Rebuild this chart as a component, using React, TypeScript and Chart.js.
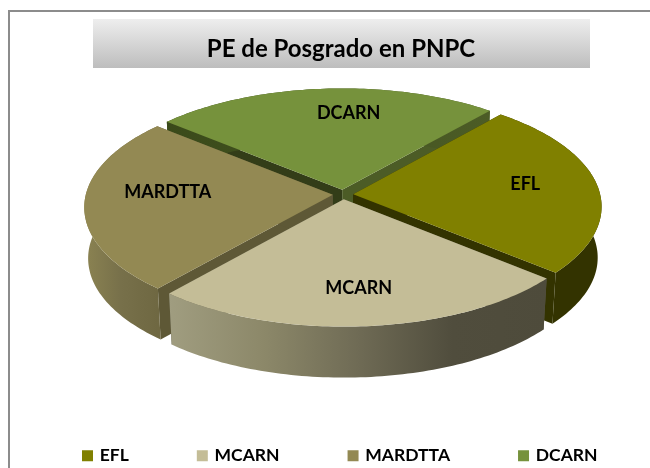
import React, { useEffect, useRef } from "react";
import { Chart, registerables } from "chart.js";

Chart.register(...registerables);

const categories = ["EFL", "MCARN", "MARDTTA", "DCARN"];
const values = [25, 25, 25, 25];
const faceColors = ["#808000", "#C4BD97", "#938953", "#76923C"];

// Styling of the extruded 3D walls, by slice
const wallStops: string[][] = [
  ["#333300", "#333300"],
  ["#a09d80", "#8c8869", "#6f6b55", "#504d3d", "#4e4b3b"],
  ["#8b8352", "#77704a", "#6f6842"],
  ["#3a4a1a", "#4c5c26"],
];
const startFaceColors = ["#333300", "#5a5846", "#5e5836", "#333d18"];
const endFaceColors = ["#333300", "#5a5846", "#5e5836", "#4c5c26"];
const labelRadius = [0.71, 0.725, 0.67, 0.735];
const labelTurnDeg = [-2.8, 0.25, 6.5, 6.8];

// Projection of the pie's unit disc on the page
const view = { cx: 343, cy: 194.5, rx: 247, ry: 113, k: 0.105, depth: 51, shrink: 0.985 };
const paintOrder = [3, 0, 2, 1];
const legendLayout = { gap: 70, startX: 84, rowY: 447 };

const project = (u: number, v: number) => {
  const w = 1 - view.k * v;
  return { x: view.cx + (view.rx * u) / w, y: view.cy + (view.ry * v) / w };
};
const lower = (p: { x: number; y: number }) => ({
  x: view.cx + (p.x - view.cx) * view.shrink,
  y: p.y + view.depth,
});

const pie3d = {
  id: "pie3d",
  afterLayout(chart: any) {
    // Chart.js wraps a row when the padding is large, so the row is fitted with a small
    // padding and the real gap between the items is set afterwards.
    const leg = chart.legend;
    leg.options.labels.padding = legendLayout.gap;
    leg.top = legendLayout.rowY - legendLayout.gap;
    leg.right = 2000;
    leg.left = 2 * legendLayout.startX - legendLayout.gap - leg.right + leg.lineWidths[0];
  },
  beforeDraw(chart: any) {
    const { ctx } = chart;
    ctx.save();
    ctx.fillStyle = "#8c8c8c";
    ctx.fillRect(8, 10, 642, 2);
    ctx.fillRect(8, 10, 2, 458);
    const g = ctx.createLinearGradient(0, 19, 0, 68);
    g.addColorStop(0, "#eeeeee");
    g.addColorStop(1, "#bdbdbd");
    ctx.fillStyle = g;
    ctx.fillRect(93, 19, 497, 49);
    ctx.restore();
  },
  beforeDatasetsDraw(chart: any) {
    const { ctx } = chart;
    const arcs = chart.getDatasetMeta(0).data;
    const geom = arcs.map((arc: any) => {
      const { startAngle, endAngle, outerRadius } = arc.getProps(
        ["startAngle", "endAngle", "outerRadius"],
        true,
      );
      const mid = (startAngle + endAngle) / 2;
      const d = (arc.options.offset || 0) / outerRadius;
      const ou = d * Math.cos(mid);
      const ov = d * Math.sin(mid);
      const rim = [];
      for (let i = 0; i <= 80; i++) {
        const a = startAngle + ((endAngle - startAngle) * i) / 80;
        rim.push(project(ou + Math.cos(a), ov + Math.sin(a)));
      }
      return { mid, ou, ov, apex: project(ou, ov), rim };
    });

    const poly = (pts: { x: number; y: number }[], fill: any) => {
      ctx.beginPath();
      pts.forEach((p, i) => (i ? ctx.lineTo(p.x, p.y) : ctx.moveTo(p.x, p.y)));
      ctx.closePath();
      ctx.fillStyle = fill;
      ctx.fill();
    };

    ctx.save();
    paintOrder.forEach((i) => {
      const { apex, rim } = geom[i];
      const first = rim[0];
      const last = rim[rim.length - 1];
      poly([apex, first, lower(first), lower(apex)], startFaceColors[i]);
      poly([apex, last, lower(last), lower(apex)], endFaceColors[i]);
      const xs = rim.map((p: any) => p.x);
      const grad = ctx.createLinearGradient(Math.min(...xs), 0, Math.max(...xs), 0);
      wallStops[i].forEach((c, n) => grad.addColorStop(n / (wallStops[i].length - 1), c));
      poly([...rim, ...rim.map(lower).reverse()], grad);
      poly([apex, ...rim], faceColors[i]);
    });

    ctx.fillStyle = "#000";
    ctx.font = "bold 18px Lato";
    ctx.textAlign = "center";
    ctx.textBaseline = "middle";
    geom.forEach((g: any, i: number) => {
      const a = g.mid + (labelTurnDeg[i] * Math.PI) / 180;
      const p = project(g.ou + labelRadius[i] * Math.cos(a), g.ov + labelRadius[i] * Math.sin(a));
      ctx.fillText(chart.data.labels[i], p.x, p.y);
    });
    ctx.restore();
    return false;
  },
};

export default function App() {
  const ref = useRef<HTMLCanvasElement>(null);
  useEffect(() => {
    const chart = new Chart(ref.current!, {
      type: "pie",
      data: {
        labels: categories,
        datasets: [{ data: values, backgroundColor: faceColors, borderWidth: 0, offset: 7.2 }],
      },
      options: {
        responsive: false,
        animation: false,
        rotation: 40.4,
        layout: { padding: { left: 32, top: 27, bottom: 1, right: 0 } },
        plugins: {
          tooltip: { enabled: false },
          title: {
            display: true,
            text: "PE de Posgrado en PNPC",
            color: "#000",
            font: { family: "Lato", size: 24, weight: "bold" },
            padding: { top: 8, bottom: 10 },
          },
          legend: {
            position: "bottom",
            labels: {
              color: "#000",
              boxWidth: 7,
              boxHeight: 7,
              padding: 10,
              font: { family: "Lato", size: 17.5, weight: "bold" },
              generateLabels(c: any) {
                return c.data.labels.map((text: string, index: number) => ({
                  text,
                  index,
                  hidden: false,
                  fontColor: "#000",
                  fillStyle: faceColors[index],
                  strokeStyle: faceColors[index],
                  lineWidth: 4,
                }));
              },
            },
          },
        },
      },
      plugins: [pie3d],
    } as any);
    return () => chart.destroy();
  }, []);
  return (
    <div style={{ position: "absolute", left: 0, top: 0, width: 650, height: 468, overflow: "hidden" }}>
      <canvas ref={ref} width={650} height={468} style={{ display: "block" }} />
    </div>
  );
}
